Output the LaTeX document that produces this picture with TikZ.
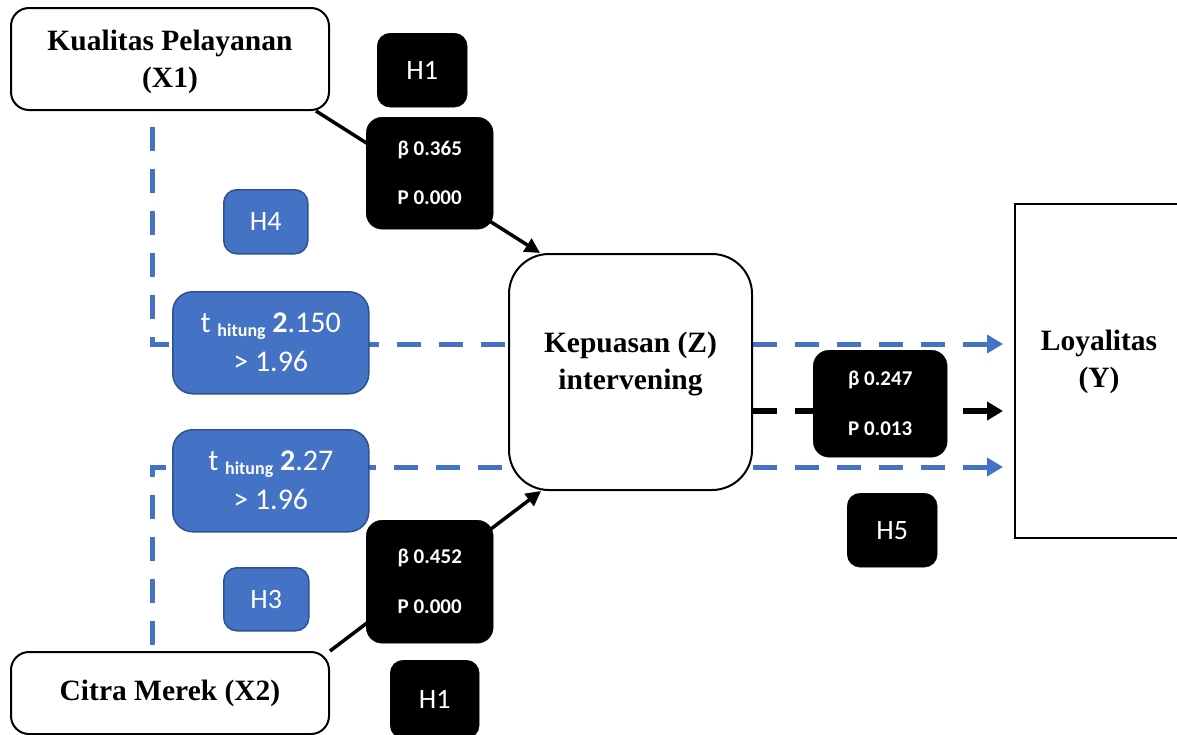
\documentclass[tikz,border=0pt]{standalone}
\usepackage{fontspec}
\setmainfont{Liberation Serif}
\newfontfamily\calfont{Carlito}
\usetikzlibrary{arrows.meta,calc,backgrounds}
\definecolor{blu}{HTML}{4472C4}
\definecolor{bluedge}{HTML}{2F528F}
\tikzset{
  varbox/.style={draw=black, line width=2pt, fill=white, rounded corners=18pt, inner sep=0pt,
    anchor=north west, align=center, font=\bfseries\fontsize{29.5}{37}\selectfont},
  vartext/.style={align=center, font=\bfseries\fontsize{29.5}{37}\selectfont},
  hbox/.style={fill=black, draw=black, rounded corners=13pt, inner sep=0pt, anchor=north west,
    text=white, font=\calfont\fontsize{28}{30}\selectfont},
  statbox/.style={fill=black, draw=black, rounded corners=16pt, inner sep=0pt, anchor=north west,
    text=white, align=center, font=\calfont\bfseries\fontsize{21}{22}\selectfont},
  bluebox/.style={fill=blu, draw=bluedge, line width=1.5pt, rounded corners=13pt, inner sep=0pt,
    anchor=north west, text=white, align=center, font=\calfont\fontsize{28}{30}\selectfont},
  tbox/.style={bluebox, rounded corners=20pt, font=\calfont\fontsize{30}{39}\selectfont},
  blkarrow/.style={draw=black, line width=3.5pt, -{Triangle[length=15pt,width=15pt]}},
  blkdash/.style={draw=black, line width=5.5pt, dash pattern=on 24pt off 18pt, -{Triangle[length=16pt,width=18pt]}},
  bludash/.style={draw=blu, line width=5pt, dash pattern=on 24pt off 18pt},
  bluarrow/.style={bludash, -{Triangle[length=16pt,width=18pt]}},
}
\newcommand{\hit}{\raisebox{-4pt}{\bfseries\fontsize{18}{18}\selectfont hitung}}
\begin{document}
\begin{tikzpicture}[x=1pt,y=-1pt]
\clip (0,0) rectangle (1177,734);

% variable boxes
\node[varbox, minimum width=318pt, minimum height=102pt] (KP) at (10,7) {};
\node[vartext] (KPT) at ($(KP.center)+(0,3)$) {Kualitas Pelayanan\\(X1)};
\node[varbox, minimum width=318pt, minimum height=82pt] (CM) at (10,651) {Citra Merek (X2)};
\node[varbox, rounded corners=40pt, minimum width=243pt, minimum height=236pt] (Kep) at (508,253) {};
\node[vartext] (KepT) at ($(Kep.center)+(0,-8)$) {Kepuasan (Z)\\intervening};
\node[varbox, rounded corners=0pt, minimum width=168pt, minimum height=334pt] (Loy) at (1014,203) {};
\node[vartext] (LoyT) at (1099,362) {Loyalitas\\(Y)};

% hypothesis labels
\node[hbox, minimum width=90pt, minimum height=74pt] (H1a) at (377,33) {H1};
\node[hbox, minimum width=89pt, minimum height=78pt] (H1b) at (390,660) {H1};
\node[hbox, minimum width=90pt, minimum height=74pt] (H5) at (847,493) {H5};
\node[bluebox, minimum width=84pt, minimum height=64pt] (H4) at (223,189) {H4};
\node[bluebox, minimum width=85pt, minimum height=63pt] (H3) at (223,567) {H3};

% statistics boxes
\node[statbox, minimum width=127pt, minimum height=112pt] (S1) at (366,117) {β 0.365\\[27pt]P 0.000};
\node[statbox, minimum width=127pt, minimum height=123pt] (S2) at (366,520) {β 0.452\\[28pt]P 0.000};
\node[statbox, minimum width=134pt, minimum height=107pt] (S3) at (813,350) {β 0.247\\[28pt]P 0.013};
\node[tbox, minimum width=196pt, minimum height=102pt] (T1) at (172,291) {t \hit{} \textbf{2}.150\\> 1.96};
\node[tbox, minimum width=196pt, minimum height=102pt] (T2) at (172,429) {t \hit{} \textbf{2}.27\\> 1.96};

\coordinate (V1) at (152,127);
\coordinate (V2) at (152,645);

\begin{scope}[on background layer]
  \fill[white] (0,0) rectangle (1177,734);
  \draw[blkarrow] ($(KP.south east)+(-14,0)$) -- ($(Kep.north west)+(32,0)$);
  \draw[blkarrow] (CM.north east) -- ($(Kep.south west)+(33,0)$);
  \draw[bludash] (V1) |- ($(Kep.west)+(0,-28)$);
  \draw[bludash] (V2) |- ($(Kep.west)+(0,95)$);
  \draw[bluarrow] ($(Kep.east)+(0,-28)$) coordinate (R1) -- ($(R1 -| Loy.west)+(-11,0)$);
  \draw[bluarrow] ($(Kep.east)+(0,95)$) coordinate (R2) -- ($(R2 -| Loy.west)+(-11,0)$);
  \draw[blkdash] ($(Kep.east)+(0,39)$) coordinate (R3) -- ($(R3 -| Loy.west)+(-11,0)$);
\end{scope}
\end{tikzpicture}
\end{document}
